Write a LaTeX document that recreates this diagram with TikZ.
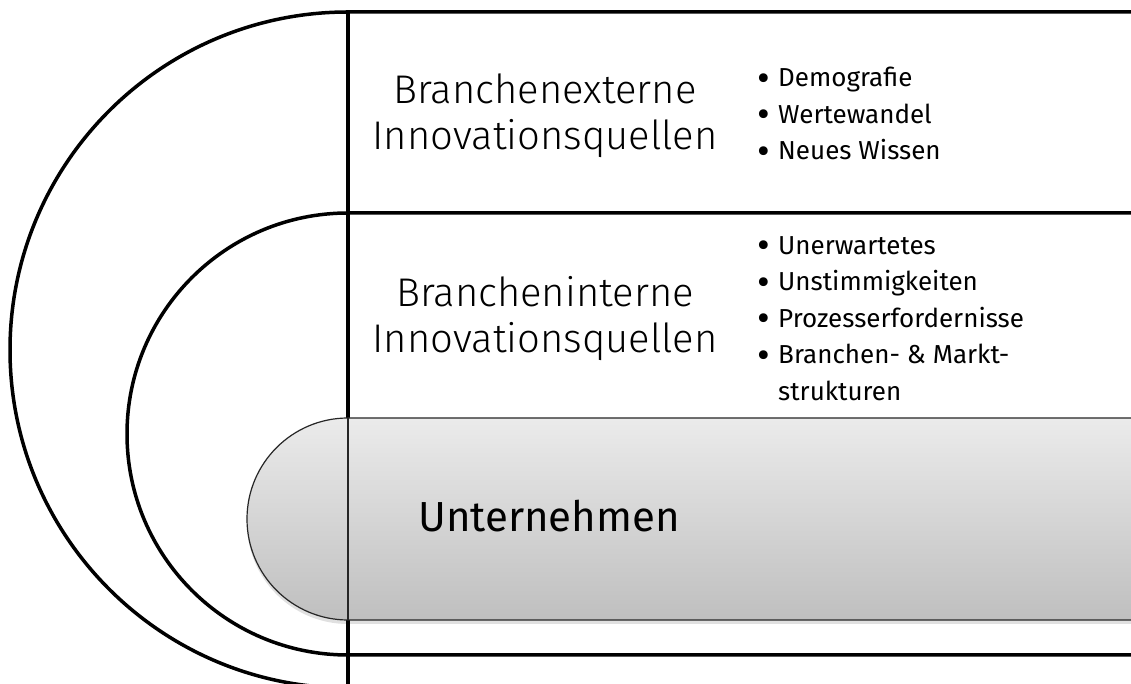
\documentclass[tikz,border=0pt]{standalone}
\usepackage{fontspec}
\setmainfont{Fira Sans}
\newfontfamily\thinfont{Fira Sans Light}
\usetikzlibrary{shadows}
\definecolor{kerntop}{HTML}{EBEBEB}
\definecolor{kernbot}{HTML}{BFBFBF}
\newcommand{\listdot}{\makebox[21pt][l]{\raisebox{-4.5pt}{\scalebox{1.5}{\textbullet}}}}
\begin{document}
\begin{tikzpicture}[x=1pt,y=1pt,
    layer/.style={draw=black, line width=3.5pt, fill=white},
    kern/.style={draw=black!85, line width=1.2pt, top color=kerntop, bottom color=kernbot},
    bigtext/.style={inner sep=0pt, align=center, font=\thinfont\fontsize{40}{46}\selectfont},
    listtext/.style={inner sep=0pt, align=left, anchor=north west, font=\fontsize{26}{36.5}\selectfont}]
	\useasboundingbox (0,0) rectangle (1131,684);
	\clip (0,0) rectangle (1131,684);
	
	% outer layer
	\draw[layer] (1160,672) -- (348,672) arc[start angle=90, end angle=270, radius=338] -- (1160,-4) -- cycle;
	\draw[line width=3.5pt] (348,672) -- (348,-4);
	
	% middle layer
	\draw[layer] (1160,471) -- (348,471) arc[start angle=90, end angle=270, radius=221] -- (1160,29) -- cycle;
	\draw[line width=3.5pt] (348,471) -- (348,29);
	
	% core
	\fill[black, opacity=0.12] (1160,262) -- (348,262) arc[start angle=90, end angle=270, radius=101] -- (1160,60) -- cycle;
	\draw[kern] (1160,266) -- (348,266) arc[start angle=90, end angle=270, radius=101] -- (1160,64) -- cycle;
	\draw[draw=black!85, line width=1.2pt] (348,266) -- (348,64);
	
	\node[bigtext] (extern) at (545,568) {Branchenexterne\\Innovationsquellen};
	\node[bigtext] (intern) at (545,365) {Brancheninterne\\Innovationsquellen};
	\node[anchor=base west, inner sep=0pt, font=\fontsize{42}{50}\selectfont] (firm) at (418,152) {Unternehmen};
	
	\node[listtext] (extlist) at (757,617) {\listdot Demografie\\\listdot Wertewandel\\\listdot Neues Wissen};
	\node[listtext] (intlist) at (757,448) {\listdot Unerwartetes\\\listdot Unstimmigkeiten\\\listdot Prozesserfordernisse\\\listdot Branchen- \& Markt-\\\hspace*{21pt}strukturen};
\end{tikzpicture}
\end{document}
